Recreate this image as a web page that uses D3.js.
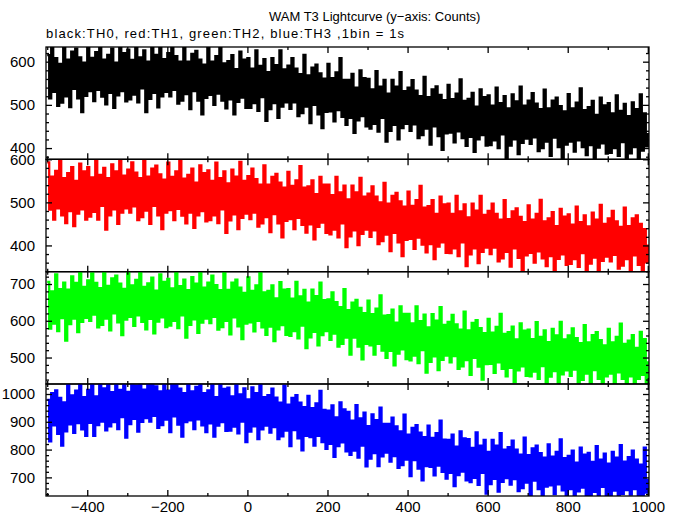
<!DOCTYPE html>
<html><head><meta charset="utf-8">
<script src="https://cdn.jsdelivr.net/npm/d3@7"></script>
<style>body{margin:0;background:#fff}svg{display:block}text{font-family:"Liberation Sans",Arial,Helvetica,sans-serif;fill:#000}</style>
</head><body><svg id="c" width="679" height="515"></svg>
<script>
// time bins (s), 5-s sampling of the 1-s light curve envelope
const times = d3.range(-500, 1001, 5);

// TH0 (black)
const th0 = [
615,515,632,530,608,498,595,505,640,520,
605,495,623,537,630,515,610,483,598,521,
642,532,609,509,622,535,655,519,605,501,
616,528,630,493,598,522,638,532,620,508,
628,513,604,524,646,506,610,538,626,483,
600,514,632,528,616,494,650,520,606,530,
620,520,637,535,613,503,600,510,645,525,
600,490,618,532,625,510,605,478,593,516,
633,523,600,500,613,526,646,510,596,492,
601,513,615,478,583,507,623,517,605,493,
608,493,584,504,626,486,590,518,606,463,
576,490,608,504,592,470,626,496,582,506,
591,491,608,506,584,474,571,481,616,496,
568,458,586,500,593,478,573,446,561,484,
595,485,562,462,575,488,608,472,558,454,
558,470,572,435,540,464,580,474,562,450,
560,445,536,456,578,438,542,470,558,415,
526,440,558,454,542,420,576,446,532,456,
540,440,557,455,533,423,520,430,565,445,
518,408,536,450,543,428,523,396,511,434,
546,436,513,413,526,439,559,423,509,405,
514,426,528,391,496,420,536,430,518,406,
522,407,498,418,540,400,504,432,520,377,
492,406,524,420,508,386,542,412,498,422,
510,410,527,425,503,393,490,400,535,415,
492,382,510,424,517,402,497,370,485,408,
525,415,492,392,505,418,538,402,488,384,
495,407,509,372,477,401,517,411,499,387,
504,389,480,400,522,382,486,414,502,359,
474,388,506,402,490,368,524,394,480,404,
435];

// TH1 (red)
const th1 = [
593,483,560,460,573,486,606,470,556,452,
568,480,582,445,550,474,590,484,572,460,
582,467,558,478,600,460,564,492,580,437,
556,470,588,484,572,450,606,476,562,486,
576,476,593,491,569,459,556,466,601,481,
560,450,578,492,585,470,565,438,553,476,
592,482,559,459,572,485,605,469,555,451,
564,476,578,441,546,470,586,480,568,456,
574,459,550,470,592,452,556,484,572,429,
544,458,576,472,560,438,594,464,550,474,
561,461,578,476,554,444,541,451,586,466,
541,431,559,473,566,451,546,419,534,457,
571,461,538,438,551,464,584,448,534,430,
537,449,551,414,519,443,559,453,541,429,
541,426,517,437,559,419,523,451,539,396,
507,421,539,435,523,401,557,427,513,437,
520,420,537,435,513,403,500,410,545,425,
497,387,515,429,522,407,502,375,490,413,
525,415,492,392,505,418,538,402,488,384,
491,403,505,368,473,397,513,407,495,383,
497,382,473,393,515,375,479,407,495,352,
465,379,497,393,481,359,515,385,471,395,
480,380,497,395,473,363,460,370,505,385,
461,351,479,393,486,371,466,339,454,377,
493,383,460,360,473,386,506,370,456,352,
463,375,477,340,445,369,485,379,467,355,
472,357,448,368,490,350,454,382,470,327,
444,358,476,372,460,338,494,364,450,374,
463,363,480,378,456,346,443,353,488,368,
445,335,463,377,470,355,450,323,438,361,
402];

// TH2 (green)
const th2 = [
706,579,680,592,726,572,686,607,704,546,
685,591,721,606,703,569,740,597,692,608,
710,600,729,617,703,582,689,589,738,606,
695,574,715,620,723,596,701,561,687,603,
733,611,696,586,711,615,747,597,692,577,
702,605,717,566,682,598,726,609,706,583,
714,587,688,600,734,580,694,615,712,554,
683,589,719,604,701,567,738,595,690,606,
704,594,723,611,697,576,683,583,732,600,
684,563,704,609,712,585,690,550,676,592,
718,596,681,571,696,600,732,582,677,562,
681,584,696,545,661,577,705,588,685,562,
686,559,660,572,706,552,666,587,684,526,
649,555,685,570,667,533,704,561,656,572,
658,548,677,565,651,530,637,537,686,554,
629,508,649,554,657,530,635,495,621,537,
655,533,618,508,633,537,669,519,614,499,
615,518,630,479,595,511,639,522,619,496,
619,492,593,505,639,485,599,520,617,459,
582,488,618,503,600,466,637,494,589,505,
597,487,616,504,590,469,576,476,625,493,
574,453,594,499,602,475,580,440,566,482,
605,483,568,458,583,487,619,469,564,449,
569,472,584,433,549,465,593,476,573,450,
576,449,550,462,596,442,556,477,574,416,
542,448,578,463,560,426,597,454,549,465,
560,450,579,467,553,432,539,439,588,456,
541,420,561,466,569,442,547,407,533,449,
578,456,541,431,556,460,592,442,537,422,
546,449,561,410,526,442,570,453,550,427,
490];

// TH3 (blue)
const th3 = [
979,830,1003,887,1013,857,986,814,970,866,
1039,891,995,860,1012,895,1057,873,989,849,
1015,896,1034,849,991,888,1045,901,1020,869,
1039,884,1007,899,1063,874,1015,917,1036,843,
1008,892,1051,911,1030,865,1075,900,1016,913,
1036,901,1059,921,1027,878,1009,888,1070,908,
1012,863,1036,920,1046,890,1019,847,1003,899,
1053,905,1009,874,1026,909,1071,887,1003,863,
1013,894,1032,847,989,886,1043,899,1018,867,
1023,868,991,883,1047,858,999,901,1020,827,
981,865,1024,884,1003,838,1048,873,989,886,
996,861,1019,881,987,838,969,848,1030,868,
962,813,986,870,996,840,969,797,953,849,
993,845,949,814,966,849,1011,827,943,803,
940,821,959,774,916,813,970,826,945,794,
936,781,904,796,960,771,912,814,933,740,
884,768,927,787,906,741,951,776,892,789,
892,757,915,777,883,734,865,744,926,764,
854,705,878,762,888,732,861,689,845,741,
886,738,842,707,859,742,904,720,836,696,
835,716,854,669,811,708,865,721,840,689,
838,683,806,698,862,673,814,716,835,642,
792,676,835,695,814,649,859,684,800,697,
809,674,832,694,800,651,782,661,843,681,
780,631,804,688,814,658,787,615,771,667,
819,671,775,640,792,675,837,653,769,629,
777,658,796,611,753,650,807,663,782,631,
788,633,756,648,812,623,764,666,785,592,
749,633,792,652,771,606,816,641,757,654,
773,638,796,658,764,615,746,625,807,645,
695];

const seriesList = [th0, th1, th2, th3];
const seriesColors = ["#000000", "#ff0000", "#00ff00", "#0000ff"];
const yDomains = [[374, 634], [339, 600], [428, 733.5], [633, 1036]];
const yMajorTicks = [[400, 500, 600], [400, 500, 600], [500, 600, 700], [700, 800, 900, 1000]];
const xMajorTicks = [-400, -200, 0, 200, 400, 600, 800, 1000];
const xMinorTicks = [-500, -300, -100, 100, 300, 500, 700, 900];
const titleText = "WAM T3 Lightcurve (y\u2212axis: Counts)";
const subtitleText = "black:TH0, red:TH1, green:TH2, blue:TH3 ,1bin = 1s";

const svg = d3.select("#c");
const left = 46, right = 649;
const bounds = [47, 159.3, 271.7, 384, 496];
const x = d3.scaleLinear().domain([-503, 1003]).range([left, right]);
const fs = 15;
const fmt = v => d3.format("d")(v);

seriesList.forEach((vals, i) => {
  const top = bounds[i], bot = bounds[i + 1];
  const y = d3.scaleLinear().domain(yDomains[i]).range([bot, top]);
  const g = svg.append("g");
  const cid = "clip" + i;
  svg.append("clipPath").attr("id", cid).append("rect")
    .attr("x", left).attr("y", top).attr("width", right - left).attr("height", bot - top);
  const pts = vals.map((v, k) => [times[k], v]);
  g.append("path").datum(pts)
    .attr("clip-path", `url(#${cid})`)
    .attr("fill", "none").attr("stroke", seriesColors[i]).attr("stroke-width", 2.3)
    .attr("stroke-linejoin", "miter")
    .attr("d", d3.line().curve(d3.curveStepAfter).x(d => x(d[0])).y(d => y(d[1])));

  const style = sel => { sel.select(".domain").remove(); sel.selectAll("line").attr("stroke", "#000").attr("stroke-width", 1.3); };
  const xb = g.append("g").attr("transform", `translate(0,${bot})`);
  if (i === 3) {
    xb.call(d3.axisBottom(x).tickValues(xMajorTicks).tickSize(-6).tickPadding(5).tickFormat(fmt));
    xb.selectAll("text").attr("font-size", fs).attr("font-family", "Liberation Sans, Arial, sans-serif");
  } else {
    xb.call(d3.axisBottom(x).tickValues(xMajorTicks).tickSize(-6).tickFormat(""));
  }
  style(xb);
  style(g.append("g").attr("transform", `translate(0,${bot})`)
    .call(d3.axisBottom(x).tickValues(xMinorTicks).tickSize(-3).tickFormat("")));
  style(g.append("g").attr("transform", `translate(0,${top})`)
    .call(d3.axisTop(x).tickValues(xMajorTicks).tickSize(-6).tickFormat("")));
  style(g.append("g").attr("transform", `translate(0,${top})`)
    .call(d3.axisTop(x).tickValues(xMinorTicks).tickSize(-3).tickFormat("")));
  const [d0, d1] = yDomains[i];
  const minor = d3.range(Math.ceil(d0 / 20) * 20, d1, 20).filter(v => v % 100 !== 0);
  const yl = g.append("g").attr("transform", `translate(${left},0)`)
    .call(d3.axisLeft(y).tickValues(yMajorTicks[i]).tickSize(-6).tickPadding(11).tickFormat(fmt));
  yl.selectAll("text").attr("font-size", fs).attr("font-family", "Liberation Sans, Arial, sans-serif");
  style(yl);
  style(g.append("g").attr("transform", `translate(${left},0)`)
    .call(d3.axisLeft(y).tickValues(minor).tickSize(-3).tickFormat("")));
  style(g.append("g").attr("transform", `translate(${right},0)`)
    .call(d3.axisRight(y).tickValues(yMajorTicks[i]).tickSize(-6).tickFormat("")));
  style(g.append("g").attr("transform", `translate(${right},0)`)
    .call(d3.axisRight(y).tickValues(minor).tickSize(-3).tickFormat("")));
  g.append("rect").attr("x", left).attr("y", top).attr("width", right - left).attr("height", bot - top)
    .attr("fill", "none").attr("stroke", "#000").attr("stroke-width", 1.3);
});

svg.append("text").attr("x", 269).attr("y", 21).attr("font-size", 13).text(titleText);
svg.append("text").attr("x", 46).attr("y", 38).attr("font-size", 13).attr("letter-spacing", 1.15).text(subtitleText);
</script></body></html>
